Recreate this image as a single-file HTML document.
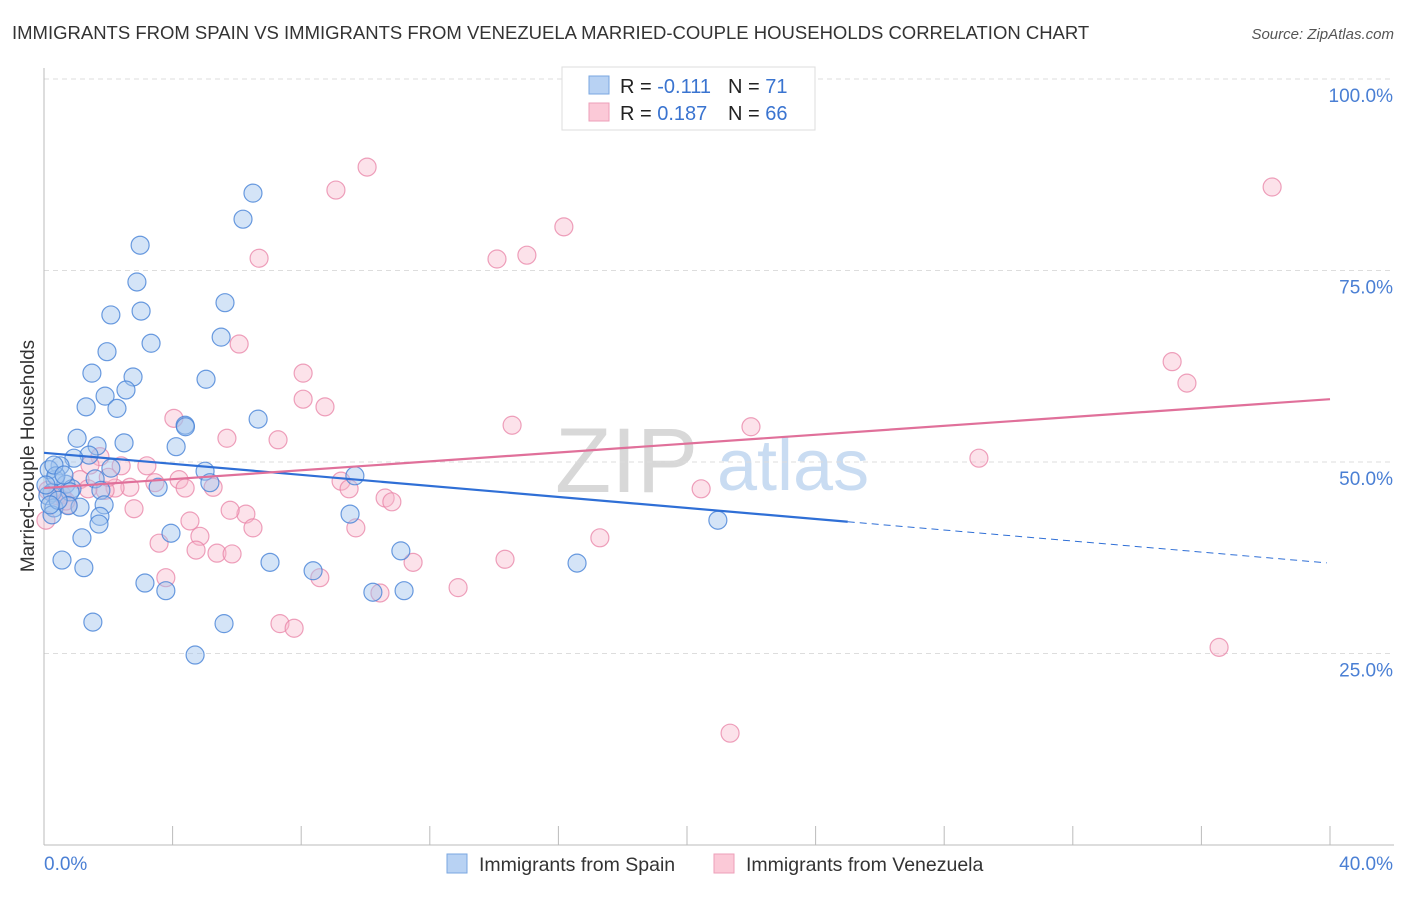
<!DOCTYPE html>
<html><head><meta charset="utf-8"><style>
body{margin:0;background:#fff;font-family:"Liberation Sans",sans-serif;}
svg text{font-family:"Liberation Sans",sans-serif;}
</style></head><body>
<svg id="chart" width="1406" height="892">
<text x="12" y="39" font-size="18.5" fill="#333">IMMIGRANTS FROM SPAIN VS IMMIGRANTS FROM VENEZUELA MARRIED-COUPLE HOUSEHOLDS CORRELATION CHART</text>
<text x="1394" y="39" font-size="15" fill="#555" font-style="italic" text-anchor="end">Source: ZipAtlas.com</text>
<text x="555" y="492" font-size="92" fill="#d8d8d8" font-family="Liberation Serif">ZIP</text>
<text x="717" y="490" font-size="72" fill="#c9dcf2">atlas</text>
<g id="grid"></g><g id="axes"></g><g id="marks"></g>
<text x="34" y="456" font-size="19" fill="#333" text-anchor="middle" transform="rotate(-90 34 456)">Married-couple Households</text>
<text x="44" y="870" font-size="19" fill="#4a7fd4">0.0%</text>
<text x="1393" y="870" font-size="19" fill="#4a7fd4" text-anchor="end">40.0%</text>
<g>
<rect x="562" y="67" width="253" height="63" fill="#fff" stroke="#ddd"/>
<rect x="589" y="76" width="20" height="18" fill="#b8d2f3" stroke="#7aa7e0"/>
<rect x="589" y="103" width="20" height="18" fill="#fbc9d7" stroke="#ee9fb9"/>
<text x="620" y="93" font-size="20" fill="#222">R = <tspan fill="#3a74d0">-0.111</tspan></text>
<text x="728" y="93" font-size="20" fill="#222">N = <tspan fill="#3a74d0"> 71</tspan></text>
<text x="620" y="120" font-size="20" fill="#222">R = <tspan fill="#3a74d0"> 0.187</tspan></text>
<text x="728" y="120" font-size="20" fill="#222">N = <tspan fill="#3a74d0">66</tspan></text>
</g>
<g>
<rect x="447" y="854" width="20" height="19" fill="#b8d2f3" stroke="#7aa7e0"/>
<text x="479" y="871" font-size="19.5" fill="#333">Immigrants from Spain</text>
<rect x="714" y="854" width="20" height="19" fill="#fbc9d7" stroke="#ee9fb9"/>
<text x="746" y="871" font-size="19.5" fill="#333">Immigrants from Venezuela</text>
</g>
</svg>
<script>
const spainX=[6.5,6.19,2.99,2.89,2.08,3.02,5.63,3.33,5.51,1.96,1.49,2.77,5.04,2.55,1.9,1.31,2.27,6.66,4.39,1.03,2.49,1.65,4.11,1.4,0.93,0.5,5.01,9.67,2.08,1.59,0.34,0.68,0.87,0.25,3.55,5.16,0.81,1.77,0.12,0.31,1.12,1.87,0.75,0.25,1.74,1.71,9.52,1.18,3.95,0.56,1.24,7.03,11.1,16.58,8.37,3.14,3.79,10.23,11.2,1.52,5.6,4.7,20.96,0.16,0.37,0.06,0.31,0.62,0.44,0.19,4.4];
const spainY=[85.1,81.7,78.3,73.5,69.2,69.7,70.8,65.5,66.3,64.4,61.6,61.1,60.8,59.4,58.6,57.2,57.0,55.6,54.8,53.1,52.5,52.1,52.0,50.9,50.5,49.5,48.8,48.2,49.2,47.8,47.7,47.1,46.5,46.0,46.7,47.3,46.1,46.3,45.6,44.0,44.1,44.4,44.3,43.1,42.9,41.9,43.2,40.1,40.7,37.2,36.2,36.9,38.4,36.8,35.8,34.2,33.2,33.0,33.2,29.1,28.9,24.8,42.4,49.0,48.2,47.0,49.6,48.3,45.0,44.4,54.6];
const venX=[10.05,9.08,16.17,38.2,6.69,14.09,15.02,6.07,8.06,35.09,35.55,8.06,8.74,4.04,14.56,21.99,5.69,7.28,29.08,3.2,1.74,2.4,4.2,3.45,2.67,2.21,4.39,5.26,9.24,9.49,10.61,10.82,20.44,1.12,0.56,0.75,2.8,6.28,4.54,6.5,9.7,3.58,4.85,17.29,4.73,5.38,5.85,11.48,14.34,3.79,8.58,12.88,10.45,7.34,7.78,36.55,21.34,0.12,0.4,1.37,1.9,0.68,5.79,0.06,1.43,2.0];
const venY=[88.5,85.5,80.7,85.9,76.6,76.5,77.0,65.4,61.6,63.1,60.3,58.2,57.2,55.7,54.8,54.6,53.1,52.9,50.5,49.5,50.7,49.5,47.7,47.3,46.7,46.6,46.6,46.7,47.5,46.5,45.3,44.8,46.5,47.7,45.7,44.4,43.9,43.2,42.3,41.4,41.4,39.4,40.3,40.1,38.5,38.1,38.0,36.9,37.3,34.9,34.9,33.6,32.9,28.9,28.3,25.8,14.6,46.3,45.6,46.5,46.3,44.9,43.7,42.4,49.6,48.0];
const spainTrend=[51.2,-0.36];
const venTrend=[46.6,0.29];
const yTicks=[25,50,75,100];
const xTicks=[0,4,8,12,16,20,24,28,32,36,40];
const NS='http://www.w3.org/2000/svg';
const sx=v=>44+v*32.15, sy=v=>845-v*7.66;
function mk(tag,attrs,parent){const e=document.createElementNS(NS,tag);for(const k in attrs)e.setAttribute(k,attrs[k]);document.getElementById(parent).appendChild(e);return e;}
yTicks.forEach(t=>{
 const l=mk('line',{x1:44,x2:1394,y1:sy(t),y2:sy(t),stroke:'#ddd','stroke-dasharray':'5,4'},'grid');
 
 
 const tx=mk('text',{x:1393,y:sy(t)+23,'font-size':19,fill:'#4a7fd4','text-anchor':'end'},'grid');
 tx.textContent=t.toFixed(1)+'%';
 
 
});
const ax=mk('line',{x1:44,x2:44,y1:68,y2:845,stroke:'#bbb'},'axes');


const bx=mk('line',{x1:44,x2:1394,y1:845,y2:845,stroke:'#bbb'},'axes');


xTicks.forEach(t=>{const l=mk('line',{x1:sx(t),x2:sx(t),y1:826,y2:845,stroke:'#bbb'},'axes');
 
 });
function dots(X,Y,fill,stroke,name){X.forEach((x,i)=>{const c=mk('circle',{cx:sx(x),cy:sy(Y[i]),r:9,fill:fill,stroke:stroke,'stroke-width':1.2},'marks');
 
 });}
dots(venX,venY,'rgba(247,182,202,0.4)','rgba(232,130,165,0.75)','venezuela-point');
dots(spainX,spainY,'rgba(160,196,238,0.45)','rgba(70,130,215,0.8)','spain-point');
const bl=mk('line',{x1:sx(0),y1:sy(spainTrend[0]),x2:sx(25),y2:sy(spainTrend[0]+spainTrend[1]*25),stroke:'#2f6fd6','stroke-width':2.2},'marks');


const bd=mk('line',{x1:sx(25),y1:sy(spainTrend[0]+spainTrend[1]*25),x2:sx(39.9),y2:sy(spainTrend[0]+spainTrend[1]*39.9),stroke:'#2f6fd6','stroke-width':1,'stroke-dasharray':'7,5'},'marks');


const pl=mk('line',{x1:sx(0),y1:sy(venTrend[0]),x2:sx(40),y2:sy(venTrend[0]+venTrend[1]*40),stroke:'#e0709a','stroke-width':2.2},'marks');


</script>
</body></html>
